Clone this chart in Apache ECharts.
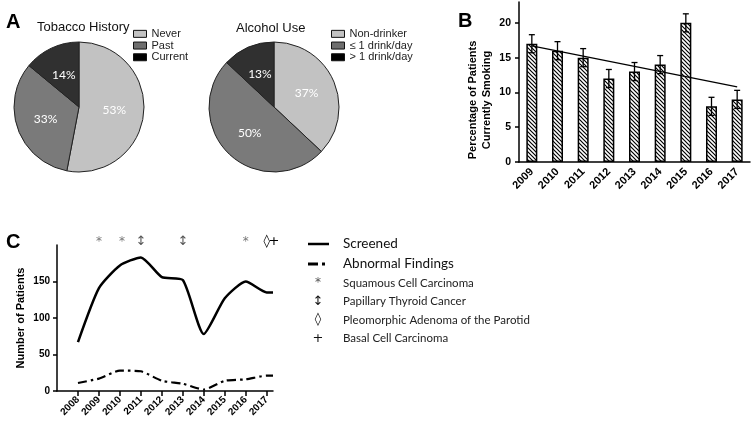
<!DOCTYPE html>
<html><head><meta charset="utf-8">
<script src="https://cdn.jsdelivr.net/npm/echarts@6/dist/echarts.min.js"></script>
<style>html,body{margin:0;padding:0;background:#fff}#c{width:755px;height:424px}</style>
</head><body><div id="c"></div>
<script>
// ---------- data ----------
const tobaccoNames = ['Never', 'Past', 'Current'];
const tobaccoPct = [53, 33, 14];
const alcoholNames = ['Non-drinker', '\u2264 1 drink/day', '> 1 drink/day'];
const alcoholPct = [37, 50, 13];

const smokeYears = ['2009','2010','2011','2012','2013','2014','2015','2016','2017'];
const smokePct = [17, 16, 15, 12, 13, 14, 20, 8, 9];
const smokeErr = [1.3, 1.3, 1.3, 1.3, 1.3, 1.3, 1.3, 1.3, 1.3];
const smokeTrend = [16.7, null, null, null, null, null, null, null, 10.8];
const smokeTicks = [0, 5, 10, 15, 20];

const cYears = [2008, 2009, 2010, 2011, 2012, 2013, 2014, 2015, 2016, 2017, 2017.3];
const screened = [67, 141, 172, 183, 156, 152, 78, 127, 150, 135, 135];
const abnormal = [11, 17, 28, 27, 14, 10, 2, 14, 16, 21, 21];
const cTickYears = [2008, 2009, 2010, 2011, 2012, 2013, 2014, 2015, 2016, 2017];
const cTicks = [0, 50, 100, 150];
const markX = [2009, 2010.1, 2011, 2013, 2016, 2017, 2017.35];
const markGlyph = ['*', '*', '\u2195', '\u2195', '*', '\u25CA', '+'];
const markLevel = 204;
const lineLegend = ['Screened', 'Abnormal Findings'];
const legendGlyph = ['*', '\u2195', '\u25CA', '+'];
const legendText = ['Squamous Cell Carcinoma', 'Papillary Thyroid Cancer', 'Pleomorphic Adenoma of the Parotid', 'Basal Cell Carcinoma'];

// ---------- styles ----------
const F = '"Liberation Sans", Arial, sans-serif';
const F2 = 'Lato, "Open Sans", sans-serif';
const FG = '"DejaVu Sans", sans-serif';
const pieColors = ['#c2c2c2', '#7a7a7a', '#303030'];
const legendColors = ['#c2c2c2', '#6e6e6e', '#000'];

function hatch() {
  const c = document.createElement('canvas'); c.width = 4; c.height = 4;
  const g = c.getContext('2d');
  g.fillStyle = '#fff'; g.fillRect(0, 0, 4, 4);
  g.strokeStyle = '#000'; g.lineWidth = 1.2;
  g.beginPath();
  g.moveTo(-1, -1); g.lineTo(5, 5);
  g.moveTo(-1, 3); g.lineTo(1, 5);
  g.moveTo(3, -1); g.lineTo(5, 1);
  g.stroke();
  return c;
}

const chart = echarts.init(document.getElementById('c'), null, {renderer: 'canvas'});

function pieData(names, vals) {
  return names.map((n, i) => ({name: n, value: vals[i], itemStyle: {color: pieColors[i]}}));
}
function legendData(names) {
  return names.map((n, i) => ({name: n, itemStyle: {color: legendColors[i], borderColor: '#111', borderWidth: 1}}));
}
const pieCommon = {
  type: 'pie', radius: 65, startAngle: 90, clockwise: true, silent: true,
  label: {show: true, position: 'inside', color: '#fff', fontFamily: F2, fontSize: 12, formatter: '{c}%'},
  labelLine: {show: false},
  itemStyle: {borderColor: '#222', borderWidth: 1}
};
const legendCommon = {
  orient: 'vertical', icon: 'rect', itemWidth: 13, itemHeight: 7, itemGap: 0,
  selectedMode: false,
  textStyle: {fontFamily: F, fontSize: 11, color: '#222', lineHeight: 11.7, padding: [0, 0, 0, 0]},
  padding: 0
};

// legend for panel C (line samples + glyph key)
const gfx = [];
const legendTop = 244, legendStep = 20;
lineLegend.forEach((t, i) => {
  const y = legendTop + i * legendStep;
  gfx.push({type: 'text', x: 343, y: y, style: {text: t, fontFamily: F2, fontSize: 13.5, fill: '#111', verticalAlign: 'middle'}});
});
gfx.push({type: 'line', shape: {x1: 308, y1: legendTop, x2: 329, y2: legendTop}, style: {stroke: '#000', lineWidth: 2.5}});
gfx.push({type: 'line', shape: {x1: 308, y1: legendTop + legendStep, x2: 318, y2: legendTop + legendStep}, style: {stroke: '#000', lineWidth: 3}});
gfx.push({type: 'line', shape: {x1: 322, y1: legendTop + legendStep, x2: 325, y2: legendTop + legendStep}, style: {stroke: '#000', lineWidth: 3}});
legendGlyph.forEach((g, i) => {
  const y = 283 + i * 18.4;
  gfx.push({type: 'text', x: 318, y: y, style: {text: g, align: 'center', verticalAlign: 'middle', fontFamily: FG, fontSize: g === '*' ? 12 : 13, fill: g === '*' ? '#555' : '#111'}});
  gfx.push({type: 'text', x: 343, y: y, style: {text: legendText[i], verticalAlign: 'middle', fontFamily: F2, fontSize: 11.5, fill: '#222'}});
});
// Panel B y-axis title
gfx.push({type: 'text', x: 480, y: 100, rotation: Math.PI / 2,
  style: {text: 'Percentage of Patients\nCurrently Smoking', align: 'center', verticalAlign: 'middle', lineHeight: 14,
    fontFamily: F, fontWeight: 'bold', fontSize: 11, fill: '#000'}});

const option = {
  animation: false,
  backgroundColor: '#fff',
  title: [
    {text: 'A', left: 1, top: 7, textStyle: {fontFamily: F, fontWeight: 'bold', fontSize: 20, color: '#000'}},
    {text: 'Tobacco History', left: 32, top: 16, textStyle: {fontFamily: F, fontWeight: 'normal', fontSize: 13, color: '#111'}},
    {text: 'Alcohol Use', left: 231, top: 17, textStyle: {fontFamily: F, fontWeight: 'normal', fontSize: 13, color: '#111'}},
    {text: 'B', left: 453, top: 6, textStyle: {fontFamily: F, fontWeight: 'bold', fontSize: 20, color: '#000'}},
    {text: 'C', left: 1, top: 227, textStyle: {fontFamily: F, fontWeight: 'bold', fontSize: 20, color: '#000'}}
  ],
  legend: [
    Object.assign({}, legendCommon, {data: legendData(tobaccoNames), left: 133, top: 28}),
    Object.assign({}, legendCommon, {data: legendData(alcoholNames), left: 331, top: 28})
  ],
  grid: [
    {left: 519, right: 5, top: 2, bottom: 262, containLabel: false},
    {left: 57, right: 482, top: 245, bottom: 33, containLabel: false}
  ],
  xAxis: [
    {type: 'category', gridIndex: 0, data: smokeYears,
     axisLine: {lineStyle: {color: '#000', width: 1.5}},
     axisTick: {alignWithLabel: true, length: 4, lineStyle: {color: '#000', width: 1.5}},
     axisLabel: {rotate: 45, fontFamily: F, fontWeight: 'bold', fontSize: 11, color: '#000', margin: 8}},
    {type: 'value', gridIndex: 1, min: 2007, max: 2017.3,
     splitLine: {show: false},
     axisLine: {lineStyle: {color: '#000', width: 1.5}},
     axisTick: {customValues: cTickYears, length: 5, lineStyle: {color: '#000', width: 1.5}},
     axisLabel: {customValues: cTickYears, formatter: v => String(Math.round(v)), rotate: 45, fontFamily: F, fontWeight: 'bold', fontSize: 10, color: '#000', margin: 7}}
  ],
  yAxis: [
    {type: 'value', gridIndex: 0, min: 0, max: 23,
     splitLine: {show: false},
     axisLine: {show: true, lineStyle: {color: '#000', width: 1.5}},
     axisTick: {show: true, customValues: smokeTicks, length: 4, lineStyle: {color: '#000', width: 1.5}},
     axisLabel: {customValues: smokeTicks, fontFamily: F, fontWeight: 'bold', fontSize: 10.5, color: '#000', margin: 8}},
    {type: 'value', gridIndex: 1, min: 0, max: 200,
     name: 'Number of Patients', nameLocation: 'middle', nameGap: 31, nameRotate: 90,
     nameTextStyle: {fontFamily: F, fontWeight: 'bold', fontSize: 11, color: '#000'},
     splitLine: {show: false},
     axisLine: {show: true, lineStyle: {color: '#000', width: 1.5}},
     axisTick: {show: true, customValues: cTicks, length: 4, lineStyle: {color: '#000', width: 1.5}},
     axisLabel: {customValues: cTicks, fontFamily: F, fontWeight: 'bold', fontSize: 10, color: '#000', margin: 7}}
  ],
  series: [
    Object.assign({}, pieCommon, {name: 'Tobacco History', center: [79, 107], data: pieData(tobaccoNames, tobaccoPct)}),
    Object.assign({}, pieCommon, {name: 'Alcohol Use', center: [274, 107], data: pieData(alcoholNames, alcoholPct)}),
    {type: 'bar', xAxisIndex: 0, yAxisIndex: 0, data: smokePct, barWidth: 11, silent: true,
     itemStyle: {color: {image: hatch(), repeat: 'repeat'}, borderColor: '#000', borderWidth: 1.5}},
    {type: 'custom', xAxisIndex: 0, yAxisIndex: 0, silent: true, z: 10,
     data: smokePct.map((v, i) => [i, v - smokeErr[i], v + smokeErr[i]]),
     renderItem: function (params, api) {
       const x = api.value(0);
       const lo = api.coord([x, api.value(1)]);
       const hi = api.coord([x, api.value(2)]);
       const w = 3;
       const st = {stroke: '#000', lineWidth: 1.3};
       return {type: 'group', children: [
         {type: 'line', shape: {x1: lo[0], y1: lo[1], x2: hi[0], y2: hi[1]}, style: st},
         {type: 'line', shape: {x1: hi[0] - w, y1: hi[1], x2: hi[0] + w, y2: hi[1]}, style: st},
         {type: 'line', shape: {x1: lo[0] - w, y1: lo[1], x2: lo[0] + w, y2: lo[1]}, style: st}
       ]};
     }},
    {type: 'line', xAxisIndex: 0, yAxisIndex: 0, data: smokeTrend, connectNulls: true, symbol: 'none', silent: true, z: 11,
     lineStyle: {color: '#000', width: 1.2}},
    {name: 'Screened', type: 'line', xAxisIndex: 1, yAxisIndex: 1, symbol: 'none', smooth: 0.2, silent: true,
     data: cYears.map((y, i) => [y, screened[i]]),
     itemStyle: {color: '#000'},
     lineStyle: {color: '#000', width: 2.5}},
    {name: 'Abnormal Findings', type: 'line', xAxisIndex: 1, yAxisIndex: 1, symbol: 'none', smooth: 0.2, silent: true,
     data: cYears.map((y, i) => [y, abnormal[i]]),
     itemStyle: {color: '#000'},
     lineStyle: {color: '#000', width: 2.2, type: [9, 4, 2.5, 4]}},
    {type: 'custom', xAxisIndex: 1, yAxisIndex: 1, silent: true, clip: false,
     data: markX.map((x, i) => [x, markLevel, i]),
     renderItem: function (params, api) {
       const p = api.coord([api.value(0), api.value(1)]);
       const g = markGlyph[params.dataIndex];
       const col = g === '*' ? '#777' : (g === '\u2195' ? '#555' : '#000');
       return {type: 'text', x: p[0], y: p[1], style: {text: g, align: 'center', verticalAlign: 'middle',
         fontFamily: FG, fontSize: g === '*' ? 12 : 13, fill: col}};
     }}
  ],
  graphic: gfx
};
chart.setOption(option);
</script>
</body></html>
